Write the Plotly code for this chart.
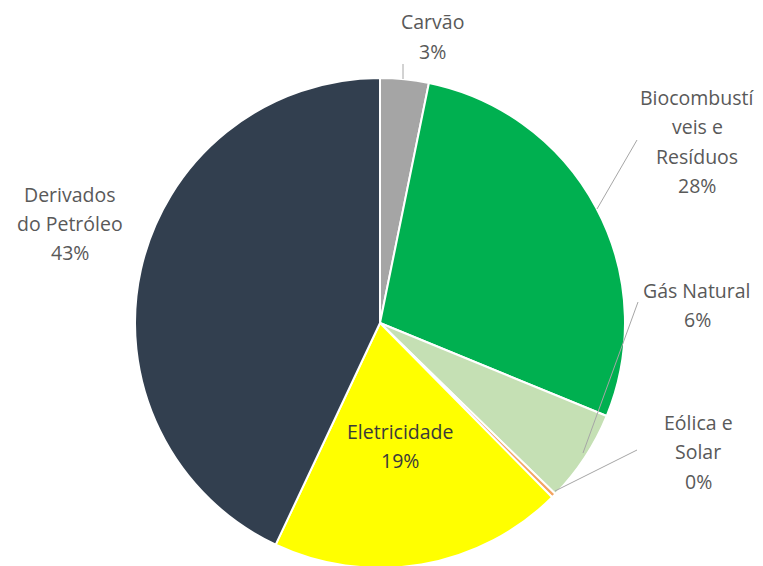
import plotly.graph_objects as go

# slices, clockwise from 12 o'clock
fontes = ['Carvão', 'Biocombustíveis e Resíduos', 'Gás Natural', 'Eólica e Solar',
          'Eletricidade', 'Derivados do Petróleo']
valores = [3.2, 28.0, 6.1, 0.3, 19.4, 43.0]
rotulos = [['Carvão', '3%'],
           ['Biocombustí', 'veis e', 'Resíduos', '28%'],
           ['Gás Natural', '6%'],
           ['Eólica e', 'Solar', '0%'],
           ['Eletricidade', '19%'],
           ['Derivados', 'do Petróleo', '43%']]
cores = ['#A5A5A5', '#00B050', '#C5E0B4', '#F4A460', '#FFFF00', '#323F4F']

W, H = 763, 566
OFF = 8  # page body margin

# label block positions (screen pixels: centre x, first line y) and leader lines
pos_rotulos = [(432, 22), (697, 97), (697, 290), (698, 422), (400, 431), (70, 194)]
linhas_guia = [((403, 64), (403, 79)),
               ((637, 140), (597, 209)),
               ((638, 302), (583, 453)),
               ((637, 450), (555, 491)),
               None, None]
espaco = 29.5


def px(x, y):
    return (x - OFF) / W, 1 - (y - OFF) / H


cx0, cy0, r = 380 - OFF, 323 - OFF, 245
fig = go.Figure(go.Pie(
    labels=fontes, values=valores, sort=False, direction='clockwise', rotation=0,
    marker=dict(colors=cores, line=dict(color='white', width=2)),
    textinfo='none', hoverinfo='label+percent', showlegend=False,
    domain=dict(x=[(cx0 - r) / W, (cx0 + r) / W], y=[0, 2 * (1 - cy0 / H)]),
))

for i, linhas in enumerate(rotulos):
    cx, cy = pos_rotulos[i]
    cor = '#3A3A3A' if fontes[i] == 'Eletricidade' else '#595959'
    for j, t in enumerate(linhas):
        x, y = px(cx, cy + j * espaco)
        fig.add_annotation(x=x, y=y, xref='paper', yref='paper', text=t, showarrow=False,
                           xanchor='center', yanchor='middle',
                           font=dict(family='Open Sans', size=19.5, color=cor))
    if linhas_guia[i]:
        (x0, y0), (x1, y1) = linhas_guia[i]
        a, b = px(x0, y0)
        c, d = px(x1, y1)
        fig.add_shape(type='line', xref='paper', yref='paper', x0=a, y0=b, x1=c, y1=d,
                      line=dict(color='#A6A6A6', width=1))

fig.update_layout(width=W, height=H, margin=dict(l=0, r=0, t=0, b=0),
                  paper_bgcolor='white', plot_bgcolor='white')

fig.write_html("out.html")
